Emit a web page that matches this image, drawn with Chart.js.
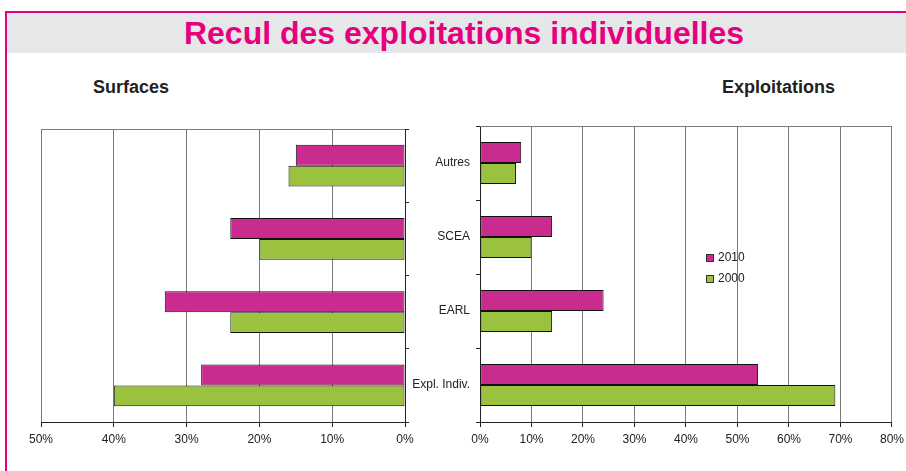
<!DOCTYPE html>
<html>
<head>
<meta charset="utf-8">
<script src="https://cdn.jsdelivr.net/npm/chart.js@4.4.0/dist/chart.umd.min.js"></script>
<style>
  body { margin: 0; background: #fff; font-family: "Liberation Sans", Arial, sans-serif; }
  #page { position: relative; width: 906px; height: 471px; overflow: hidden; }
  #frameTop { position: absolute; left: 5px; top: 11px; width: 901px; height: 2px; background: #e6007e; }
  #frameLeft { position: absolute; left: 5px; top: 11px; width: 2px; height: 460px; background: #e6007e; }
  #band { position: absolute; left: 7px; top: 13px; width: 899px; height: 40px; background: #e6e7e8; }
  #title { position: absolute; left: 7px; top: 13px; width: 914px; height: 40px; line-height: 40px; text-align: center;
    font-weight: bold; font-size: 32px; color: #e6007e; }
  .sub { position: absolute; top: 77px; font-weight: bold; font-size: 18px; color: #222; }
  .box { position: absolute; }
  #legend { position: absolute; left: 706px; top: 248px; font-size: 12px; color: #222; }
  #legend div { height: 21px; line-height: 18px; white-space: nowrap; }
  #legend span { display: inline-block; width: 6px; height: 6px; border: 1px solid #333; margin-right: 4px; vertical-align: -1px; }
</style>
</head>
<body>
<div id="page">
  <div id="band"></div>
  <div id="frameTop"></div>
  <div id="frameLeft"></div>
  <div id="title">Recul des exploitations individuelles</div>
  <div class="sub" style="left:93px">Surfaces</div>
  <div class="sub" style="left:722px">Exploitations</div>
  <div class="box" style="left:0;top:110px;width:425px;height:342px"><canvas id="chart-surfaces"></canvas></div>
  <div class="box" style="left:395px;top:110px;width:514px;height:342px"><canvas id="chart-exploitations"></canvas></div>
  <div id="legend"></div>
</div>
<script>
const categories = ["Autres", "SCEA", "EARL", "Expl. Indiv."];
const years = ["2010", "2000"];
const surfaces2010 = [15, 24, 33, 28];
const surfaces2000 = [16, 20, 24, 40];
const exploit2010 = [8, 14, 24, 54];
const exploit2000 = [7, 10, 14, 69];
const surfacesTicks = [0, 10, 20, 30, 40, 50];
const exploitTicks = [0, 10, 20, 30, 40, 50, 60, 70, 80];

const pink = "#c92c8e";
const green = "#9bc23f";
const gridColor = "#7a7a7a";
const textColor = "#222";

Chart.defaults.font.family = "'Liberation Sans', Arial, sans-serif";
Chart.defaults.font.size = 12;
Chart.defaults.color = textColor;

// top edge of the plot area
const topLine = {
  id: 'topLine',
  afterDraw(chart) {
    const a = chart.chartArea, c = chart.ctx;
    c.save();
    c.strokeStyle = gridColor;
    c.lineWidth = 1;
    c.beginPath();
    c.moveTo(a.left, a.top + 0.5);
    c.lineTo(a.right, a.top + 0.5);
    c.stroke();
    c.restore();
  }
};

function makeDatasets(v2010, v2000) {
  return [{
    label: years[0], data: v2010, backgroundColor: pink,
    borderColor: "#111", borderWidth: 1, borderSkipped: false,
    barPercentage: 1, categoryPercentage: 0.57
  }, {
    label: years[1], data: v2000, backgroundColor: green,
    borderColor: "#111", borderWidth: 1, borderSkipped: false,
    barPercentage: 1, categoryPercentage: 0.57
  }];
}

function xScale(max, ticksList, reverse) {
  return {
    type: 'linear', min: 0, max: max, reverse: reverse,
    afterBuildTicks: (s) => { s.ticks = ticksList.map(v => ({ value: v })); },
    afterFit: (s) => { s.height = 30; },
    grid: { color: gridColor, tickColor: "#222", tickLength: 5, lineWidth: 1 },
    border: { display: true, color: "#222" },
    ticks: { padding: 5, color: textColor, font: { size: 12 }, callback: v => v + '%' }
  };
}

new Chart(document.getElementById("chart-surfaces"), {
  type: "bar",
  data: { labels: categories, datasets: makeDatasets(surfaces2010, surfaces2000) },
  options: {
    indexAxis: 'y',
    responsive: true,
    maintainAspectRatio: false,
    animation: false,
    layout: { padding: { left: 41, right: 0, top: 19, bottom: 0 } },
    plugins: { legend: { display: false }, tooltip: { enabled: false } },
    scales: {
      x: xScale(50, surfacesTicks, true),
      y: {
        position: 'right',
        afterFit: (s) => { s.width = 20; },
        grid: { drawOnChartArea: false, offset: true, tickLength: 4, tickColor: "#222" },
        border: { display: true, color: "#222" },
        ticks: { display: false }
      }
    }
  },
  plugins: [topLine]
});

new Chart(document.getElementById("chart-exploitations"), {
  type: "bar",
  data: { labels: categories, datasets: makeDatasets(exploit2010, exploit2000) },
  options: {
    indexAxis: 'y',
    responsive: true,
    maintainAspectRatio: false,
    animation: false,
    layout: { padding: { left: 0, right: 12, top: 16, bottom: 0 } },
    plugins: { legend: { display: false }, tooltip: { enabled: false } },
    scales: {
      x: xScale(80, exploitTicks, false),
      y: {
        position: 'left',
        afterFit: (s) => { s.width = 85; },
        grid: { drawOnChartArea: false, offset: true, tickLength: 4, tickColor: "#222" },
        border: { display: true, color: "#222" },
        ticks: { padding: 6, color: textColor, font: { size: 12 } }
      }
    }
  },
  plugins: [topLine]
});

// legend, built from the series names and colours
const legendEl = document.getElementById("legend");
[[years[0], pink], [years[1], green]].forEach(([name, col]) => {
  const row = document.createElement("div");
  row.innerHTML = '<span style="background:' + col + '"></span>' + name;
  legendEl.appendChild(row);
});
</script>
</body>
</html>
